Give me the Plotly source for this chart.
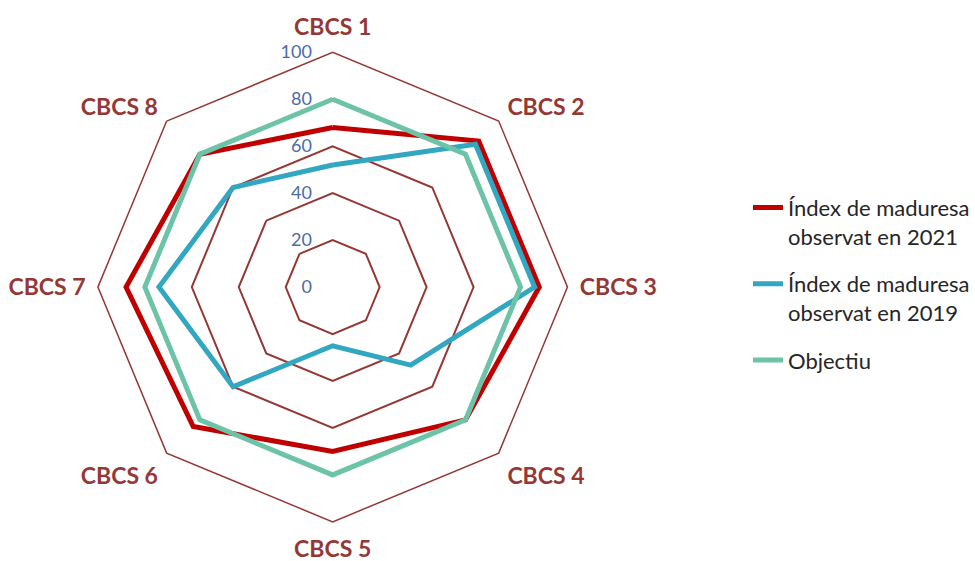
import plotly.graph_objects as go

categories = ["CBCS 1", "CBCS 2", "CBCS 3", "CBCS 4", "CBCS 5", "CBCS 6", "CBCS 7", "CBCS 8"]
index_2021 = [68, 88, 88, 80, 70, 84, 88, 80]
index_2019 = [52, 86, 86, 47, 25, 60, 74, 60]
objectiu = [80, 80, 80, 80, 80, 80, 80, 80]
names = ["Índex de maduresa<br>observat en 2021", "Índex de maduresa<br>observat en 2019", "Objectiu"]
colors = ["#C00000", "#31A7C2", "#6CC3A8"]
tick_vals = [0, 20, 40, 60, 80, 100]

fig = go.Figure()
for i, (vals, name, col) in enumerate(zip([index_2021, index_2019, objectiu], names, colors)):
    fig.add_trace(go.Scatterpolar(
        r=vals + vals[:1], theta=categories + categories[:1],
        mode="lines", name=name, legendgroup="g%d" % i,
        line=dict(color=col, width=5),
    ))

grid_col = "#953735"
fig.update_layout(
    width=975, height=561,
    margin=dict(l=0, r=0, t=0, b=0),
    paper_bgcolor="white",
    font=dict(family="Lato, 'Open Sans', sans-serif"),
    polar=dict(
        domain=dict(x=[0.1005, 0.5826], y=[0.0695, 0.907]),
        bgcolor="white",
        gridshape="linear",
        angularaxis=dict(
            direction="clockwise", rotation=90,
            showline=True, linecolor=grid_col, linewidth=1.5,
            showgrid=False, ticks="outside", ticklen=7, tickcolor="rgba(0,0,0,0)",
            tickfont=dict(size=23, color=grid_col, family="Lato, sans-serif", weight="bold"),
        ),
        radialaxis=dict(
            range=[0, 100], tickvals=tick_vals,
            angle=90, tickangle=90, side="counterclockwise",
            showline=False, ticks="outside", ticklen=14, tickcolor="rgba(0,0,0,0)",
            gridcolor=grid_col, gridwidth=1.5,
            tickfont=dict(size=18, color="#4A6BA8"),
        ),
    ),
    legend=dict(
        x=0.768, y=0.667, xanchor="left", yanchor="top",
        font=dict(size=22, color="#262626"),
        valign="top", traceorder="grouped", tracegroupgap=16,
        bgcolor="rgba(0,0,0,0)",
    ),
)
fig.write_html("out.html")
